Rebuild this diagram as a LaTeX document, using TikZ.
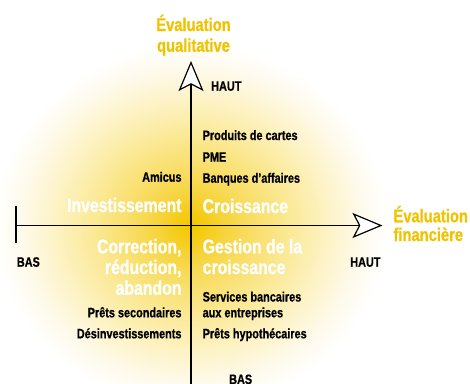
\documentclass[tikz,border=0pt]{standalone}
\usepackage{fontspec}
\setmainfont{Liberation Sans}[FakeStretch=0.8, BoldFeatures={FakeBold=0.8}]
\usetikzlibrary{arrows.meta}

\definecolor{titlegold}{RGB}{240,195,0}

% soft golden glow behind the crossing of the axes
% (the path's bounding box covers the inner 25bp of the shading)
\pgfdeclareradialshading{glow}{\pgfpoint{0bp}{0bp}}{%
  rgb(0bp)=(0.953,0.784,0);
  rgb(1.5bp)=(0.957,0.796,0.06);
  rgb(4bp)=(0.965,0.827,0.22);
  rgb(7.5bp)=(0.973,0.867,0.39);
  rgb(12.5bp)=(0.984,0.914,0.59);
  rgb(17.5bp)=(0.992,0.953,0.78);
  rgb(21.5bp)=(0.996,0.980,0.92);
  rgb(25bp)=(1,1,1);
  rgb(50bp)=(1,1,1)}

\tikzset{
  axisline/.style={line width=1.2pt, black},
  axistip/.style={-{Stealth[length=30pt,width=25pt,inset=6.5pt,fill=white]}},
  lbl/.style={font=\fontsize{13.6}{15.8}\selectfont\bfseries, text=black, inner sep=0pt},
  quad/.style={font=\fontsize{19.8}{20.7}\selectfont\bfseries, text=white, inner sep=0pt},
  ttl/.style={font=\fontsize{18.4}{20.7}\selectfont\bfseries, text=titlegold, inner sep=0pt},
}

\begin{document}
\begin{tikzpicture}[x=1pt,y=-1pt]
  \useasboundingbox (0,0) rectangle (470,383);

  % glow
  \shade[shading=glow] (191,225.5) ellipse [x radius=197, y radius=182];

  % axes
  \coordinate (origin) at (191,225.5);
  \coordinate (vlow)   at (191,386);
  \coordinate (vtop)   at (191,61);
  \coordinate (hleft)  at (16,225.5);
  \coordinate (hright) at (382.5,225.5);
  \coordinate (tickA)  at (16,206);
  \coordinate (tickB)  at (16,243);

  \draw[axisline, axistip] (vlow) -- (vtop);
  \draw[axisline, axistip] (hleft) -- (hright);
  \draw[axisline] (tickA) -- (tickB);

  % axis titles (multi-line nodes sit on their last baseline)
  \node[ttl, align=center, anchor=base] (qualit) at (193.5,51.7) {Évaluation\\qualitative};
  \node[ttl, align=left, font=\fontsize{18.4}{18.7}\selectfont\bfseries, anchor=base west] (financ) at (393.3,241) {Évaluation\\financière};

  % axis ends
  \node[lbl, anchor=base west] (hautV) at (211,90.7) {HAUT};
  \node[lbl, anchor=base west] (basV)  at (229,384) {BAS};
  \node[lbl, anchor=base west] (basH)  at (16.7,266.7) {BAS};
  \node[lbl, anchor=base east] (hautH) at (380.7,266.7) {HAUT};

  % quadrant names
  \node[quad, anchor=base east] (invest) at (181.7,212) {Investissement};
  \node[quad, anchor=base west] (croiss) at (202.5,213) {Croissance};
  \node[quad, align=right, anchor=base east] (correct) at (181.7,294.7) {Correction,\\réduction,\\abandon};
  \node[quad, align=left, anchor=base west] (gestion) at (202.5,274) {Gestion de la\\croissance};

  % activities
  \node[lbl, anchor=base west] (cartes)  at (202.5,140)   {Produits de cartes};
  \node[lbl, anchor=base west] (pme)     at (202.5,161.7) {PME};
  \node[lbl, anchor=base west] (banques) at (202.5,182.7) {Banques d’affaires};
  \node[lbl, anchor=base east] (amicus)  at (181.7,181.7) {Amicus};
  \node[lbl, align=left, anchor=base west] (services) at (202.5,317.3) {Services bancaires\\aux entreprises};
  \node[lbl, anchor=base west] (hypo)    at (202.5,338.3) {Prêts hypothécaires};
  \node[lbl, anchor=base east] (second)  at (181.7,317.3) {Prêts secondaires};
  \node[lbl, anchor=base east] (desinv)  at (181.7,338.3) {Désinvestissements};
\end{tikzpicture}
\end{document}
